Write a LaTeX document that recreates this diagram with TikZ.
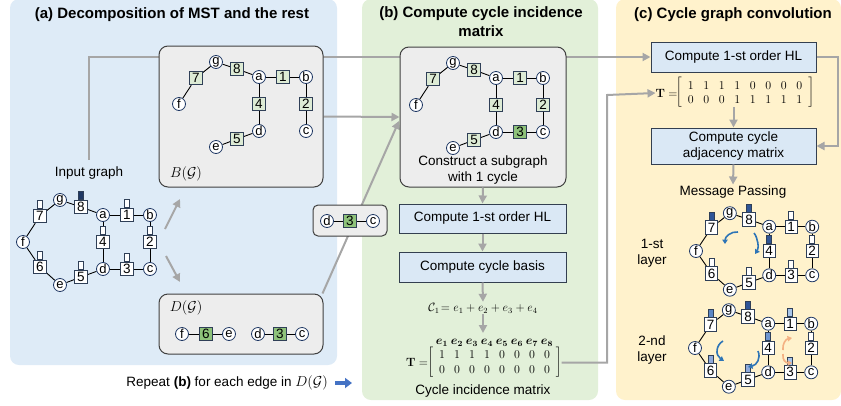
\documentclass[tikz,border=0pt]{standalone}
\usepackage{amsmath}
\usepackage[no-math]{fontspec}
\setmainfont{Liberation Sans}
\usetikzlibrary{arrows.meta,matrix,calc}
\pgfdeclarelayer{panel}\pgfdeclarelayer{conn}\pgfdeclarelayer{box}\pgfdeclarelayer{edge}
\pgfsetlayers{panel,conn,box,edge,main}
\definecolor{pA}{HTML}{DEEBF7}
\definecolor{pB}{HTML}{E2F0D9}
\definecolor{pC}{HTML}{FFF2CC}
\definecolor{lgray}{HTML}{A6A6A6}
\definecolor{vborder}{HTML}{1F3864}
\definecolor{sborder}{HTML}{2F3F57}
\definecolor{lgreen}{HTML}{DDEBD5}
\definecolor{dgreen}{HTML}{8EC27A}
\definecolor{hlfill}{HTML}{DAE8F5}
\definecolor{hlborder}{HTML}{333F50}
\definecolor{gfill}{HTML}{EDEDED}
\definecolor{gborder}{HTML}{404040}
\definecolor{navy}{HTML}{1F3864}
\definecolor{bdark}{HTML}{2F5597}
\definecolor{bmid}{HTML}{5B86C5}
\definecolor{bmidb}{HTML}{6F96D0}
\definecolor{blight}{HTML}{8FAADC}
\definecolor{blightb}{HTML}{A9C6EA}
\definecolor{arcblue}{HTML}{2E75B6}
\definecolor{arcorange}{HTML}{F4B183}
\definecolor{repblue}{HTML}{4472C4}
\newcommand\bodyfont{\fontsize{13.5}{16}\selectfont}
\newcommand\titlefont{\fontsize{15}{19}\selectfont\bfseries}
\tikzset{
 vtx/.style={circle,draw=vborder,fill=white,line width=0.8pt,inner sep=0pt,minimum size=13pt,font=\fontsize{13}{13}\selectfont},
 sqs/.style={rectangle,draw=sborder,line width=0.8pt,inner sep=0pt,minimum width=12.5pt,minimum height=13.5pt,font=\fontsize{13.5}{13.5}\selectfont},
 barst/.style={rectangle,draw=sborder,line width=0.6pt,inner sep=0pt,minimum width=5pt,minimum height=8pt,anchor=south},
 gedge/.style={line width=0.9pt,black},
 garrow/.style={draw=lgray,line width=2pt,-{Triangle[length=8pt,width=8pt]}},
 graybox/.style={draw=gborder,fill=gfill,line width=1pt,rounded corners=9pt,inner sep=0pt},
 hlbox/.style={draw=hlborder,fill=hlfill,line width=1pt,align=center,font=\bodyfont,inner sep=2pt},
 txt/.style={font=\bodyfont,align=center,inner sep=1pt},
 ttl/.style={font=\titlefont,align=center,inner sep=1pt},
 arcarrow/.style={line width=1.6pt,-{Triangle[length=4.5pt,width=5.5pt]}},
 mstyle/.style={matrix of math nodes,nodes={minimum width=15pt,minimum height=15pt,inner sep=0pt,anchor=center,font=\fontsize{12}{14}\selectfont},
   column sep=0pt,row sep=0pt,left delimiter={[},right delimiter={]},font=\fontsize{12}{14}\selectfont,inner sep=0pt},
 p1/.style={at={(104,-27)}}, p2/.style={at={(127,0)}}, p3/.style={at={(104,27)}}, p4/.style={at={(80,0)}},
 p5/.style={at={(58,35)}}, p6/.style={at={(17,25)}}, p7/.style={at={(17,-26)}}, p8/.style={at={(58,-35)}},
}
\newcommand\gverts[1]{%
 \node[vtx] (#1f) at (0,0) {f};
 \node[vtx] (#1g) at (37,-42) {g};
 \node[vtx] (#1a) at (80,-27) {a};
 \node[vtx] (#1b) at (127,-27) {b};
 \node[vtx] (#1c) at (127,27) {c};
 \node[vtx] (#1d) at (80,27) {d};
 \node[vtx] (#1e) at (37,43) {e};}
\newcommand\gsq[3]{\node[sqs,fill=#3,p#2] (#1#2) {#2};}
\newcommand\gbar[3]{\node[barst,fill=#3] (#1bar#2) at (#1#2.north) {};}
\newcommand\gbars[9]{\gbar{#1}{1}{#2}\gbar{#1}{2}{#3}\gbar{#1}{3}{#4}\gbar{#1}{4}{#5}\gbar{#1}{5}{#6}\gbar{#1}{6}{#7}\gbar{#1}{7}{#8}\gbar{#1}{8}{#9}}
\newcommand\allwhite[1]{\gsq{#1}{1}{white}\gsq{#1}{2}{white}\gsq{#1}{3}{white}\gsq{#1}{4}{white}\gsq{#1}{5}{white}\gsq{#1}{6}{white}\gsq{#1}{7}{white}\gsq{#1}{8}{white}}
\newcommand\gedges[2]{\begin{pgfonlayer}{edge}\foreach \u/\v in {#2}{\draw[gedge] (#1\u) -- (#1\v);}\end{pgfonlayer}}
\begin{document}
\begin{tikzpicture}[x=1pt,y=-1pt]
\useasboundingbox (0,0) rectangle (841,405);
\begin{pgfonlayer}{panel}
\fill[pA,rounded corners=9pt] (10,-1) rectangle (337,365);
\fill[pB,rounded corners=9pt] (362,-1) rectangle (598,400);
\fill[pC,rounded corners=9pt] (616,-1) rectangle (841,400);
\end{pgfonlayer}
% titles
\node[ttl] (ta) at (172,15) {(a) Decomposition of MST and the rest};
\node[ttl] (tb) at (481,22) {(b) Compute cycle incidence\\matrix};
\node[ttl] (tc) at (733,15) {(c) Cycle graph convolution};
% gray boxes
\begin{pgfonlayer}{box}
\node[graybox,minimum width=164pt,minimum height=141pt] (Bbox) at (241,116.5) {};
\node[graybox,minimum width=164pt,minimum height=60pt] (Dbox) at (241,324) {};
\node[graybox,rounded corners=5pt,minimum width=74pt,minimum height=31pt] (smallbox) at (350,220.5) {};
\node[graybox,minimum width=166pt,minimum height=140pt] (sub) at (483,117) {};
\end{pgfonlayer}
% B graph
\begin{scope}[shift={(179,104)}]
\gverts{B}
\gsq{B}{1}{lgreen}\gsq{B}{2}{lgreen}\gsq{B}{4}{lgreen}\gsq{B}{5}{lgreen}\gsq{B}{7}{lgreen}\gsq{B}{8}{lgreen}
\end{scope}
\gedges{B}{f/7,7/g,g/8,8/a,a/1,1/b,b/2,2/c,a/4,4/d,d/5,5/e}
\node[font=\fontsize{15}{15}\selectfont,inner sep=0pt] (Blab) at (186,174) {$B(\mathcal{G})$};
% input graph
\node[txt] (ilab) at (89,173) {Input graph};
\begin{scope}[shift={(23,242)}]
\gverts{I}\allwhite{I}
\end{scope}
\gbars{I}{white}{white}{white}{white}{white}{white}{white}{navy}
\gedges{I}{f/7,7/g,g/8,8/a,a/1,1/b,b/2,2/c,c/3,3/d,d/4,4/a,d/5,5/e,e/6,6/f}
% D graph
\node[font=\fontsize{15}{15}\selectfont,inner sep=0pt] (Dlab) at (186,308) {$D(\mathcal{G})$};
\node[vtx] (Df) at (182,334) {f};
\node[sqs,fill=dgreen] (D6) at (206,334) {6};
\node[vtx] (De) at (229,334) {e};
\node[vtx] (Dd) at (258,334) {d};
\node[sqs,fill=dgreen] (D3) at (280,334) {3};
\node[vtx] (Dc) at (302,334) {c};
\gedges{D}{f/6,6/e,d/3,3/c}
% small box
\node[vtx] (Xd) at (327,221) {d};
\node[sqs,fill=dgreen] (X3) at (350,221) {3};
\node[vtx] (Xc) at (373,221) {c};
\gedges{X}{d/3,3/c}
% repeat text
\node[txt,anchor=east] (rep) at (329,383) {Repeat \textbf{(b)} for each edge in $D(\mathcal{G})$};
\coordinate (rb1) at (335,383);
\coordinate (rb2) at (352,383);
\draw[-{Triangle[length=7pt,width=10pt]},line width=4.5pt,repblue] (rb1) -- (rb2);
% panel b
\begin{scope}[shift={(416,105)}]
\gverts{S}
\gsq{S}{1}{lgreen}\gsq{S}{2}{lgreen}\gsq{S}{3}{dgreen}\gsq{S}{4}{lgreen}\gsq{S}{5}{lgreen}\gsq{S}{7}{lgreen}\gsq{S}{8}{lgreen}
\end{scope}
\gedges{S}{f/7,7/g,g/8,8/a,a/1,1/b,b/2,2/c,c/3,3/d,a/4,4/d,d/5,5/e}
\node[txt] (subtxt) at (483,170) {Construct a subgraph\\with 1 cycle};
\node[hlbox,minimum width=167pt,minimum height=29pt] (bhl) at (482.5,218.5) {Compute 1-st order HL};
\node[hlbox,minimum width=167pt,minimum height=30pt] (bbasis) at (482.5,267) {Compute cycle basis};
\node[font=\fontsize{12}{12}\selectfont,inner sep=1pt] (form) at (483,308) {$\mathcal{C}_1\!=e_1+e_2+e_3+e_4$};
\matrix (Tbm) [mstyle] at (494.5,362.5) {1&1&1&1&0&0&0&0\\0&0&0&0&0&0&0&0\\};
\node[anchor=east,font=\fontsize{12}{14}\selectfont,inner sep=0pt] (Tbl) at ([xshift=-6pt]Tbm.west) {$\mathbf{T}=$};
\foreach \j in {1,...,8}{\node[anchor=south,inner sep=1pt,font=\fontsize{11.5}{11.5}\selectfont] (eb\j) at (Tbm-1-\j.north) {$\boldsymbol{e}_{\boldsymbol{\j}}$};}
\node[txt] (cim) at (483,391) {Cycle incidence matrix};
\coordinate (matin) at (483,333);
% panel c
\node[hlbox,minimum width=165pt,minimum height=30pt] (chl) at (733.5,57) {Compute 1-st order HL};
\matrix (Tcm) [mstyle,nodes={minimum width=15.5pt,minimum height=14pt}] at (745,93) {1&1&1&1&0&0&0&0\\0&0&0&1&1&1&1&1\\};
\node[anchor=east,font=\fontsize{12}{14}\selectfont,inner sep=0pt] (Tcl) at ([xshift=-5pt]Tcm.west) {$\mathbf{T}=$};
\node[hlbox,minimum width=165pt,minimum height=36pt,font=\fontsize{13.5}{15.5}\selectfont] (cadj) at (733.5,146) {Compute cycle\\adjacency matrix};
\node[txt] (mp) at (733,192) {Message Passing};
\node[txt] (l1) at (652,253) {1-st\\layer};
\node[txt] (l2) at (652,350) {2-nd\\layer};
\begin{scope}[shift={(696,251)},xscale=0.915,yscale=0.9]
\gverts{L}\allwhite{L}
\end{scope}
\gbars{L}{white}{white}{white}{bdark}{white}{white}{bdark}{bdark}
\gedges{L}{f/7,7/g,g/8,8/a,a/1,1/b,b/2,2/c,c/3,3/d,d/4,4/a,d/5,5/e,e/6,6/f}
\begin{scope}[shift={(695,348)},xscale=0.915,yscale=0.9]
\gverts{M}\allwhite{M}
\end{scope}
\gbars{M}{blightb}{white}{blightb}{bmidb}{blight}{blight}{bmid}{bdark}
\gedges{M}{f/7,7/g,g/8,8/a,a/1,1/b,b/2,2/c,c/3,3/d,d/4,4/a,d/5,5/e,e/6,6/f}
% message arcs
\draw[arcarrow,arcblue] (738,232) .. controls (731,231) and (725,237) .. (725,244);
\draw[arcarrow,arcblue] (754,233) .. controls (758,238) and (759,248) .. (755,254);
\draw[arcarrow,arcblue] (723,341) .. controls (716,345) and (715,355) .. (724,361);
\draw[arcarrow,arcblue] (758,351) .. controls (761,358) and (757,365) .. (748,367);
\draw[arcarrow,arcorange] (783,350) .. controls (782,344) and (786,339) .. (792,338);
\draw[arcarrow,arcorange] (783,354) .. controls (782,360) and (786,363) .. (792,363);
% connectors
\coordinate (ia1) at (165,229);
\coordinate (ia2) at (180,199);
\coordinate (ib1) at (166,256);
\coordinate (ib2) at (180,282);
\coordinate (subin) at (399,121);
\coordinate (bend) at (607,95);
\begin{pgfonlayer}{conn}
\draw[garrow] ([yshift=6pt]ilab.north) |- (chl.west);
\draw[garrow] (Bbox.east) -- (sub.west);
\draw[garrow] ([xshift=-1pt]Dbox.north east) -- (subin);
\draw[garrow] ([xshift=7pt]Tbm.east) -| (bend) -- (Tcl.west);
\end{pgfonlayer}
\draw[garrow] (ia1) -- (ia2);
\draw[garrow] (ib1) -- (ib2);
\draw[garrow] (sub.south) -- (bhl.north);
\draw[garrow] (bhl.south) -- (bbasis.north);
\draw[garrow] (bbasis.south) -- (form.north);
\draw[garrow] (form.south) -- (matin);
\draw[garrow] (chl.east) -- ++(21,0) |- (cadj.east);
\draw[garrow] (cadj.north |- Tcm.south) -- (cadj.north);
\draw[garrow] (cadj.south) -- (mp.north);
\end{tikzpicture}
\end{document}
